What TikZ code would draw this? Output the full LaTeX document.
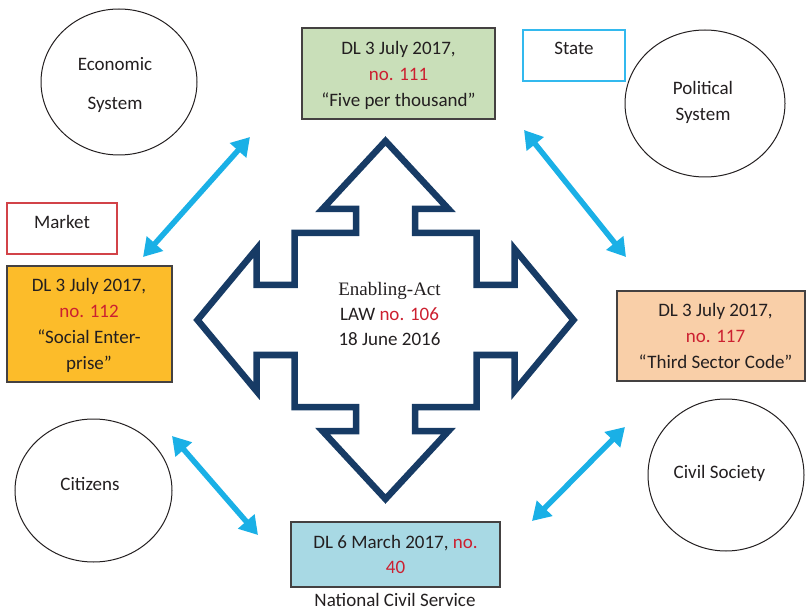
\documentclass[tikz,border=0pt]{standalone}
\usepackage{fontspec}
\setmainfont{Carlito}
\newfontfamily\serifA{Liberation Serif}
\usetikzlibrary{arrows.meta,shapes.geometric}
\definecolor{navy}{HTML}{173B65}
\definecolor{cyanA}{HTML}{1AB0E6}
\definecolor{ink}{HTML}{231F20}
\definecolor{redA}{HTML}{CC2030}
\definecolor{greenA}{HTML}{C9DFB9}
\definecolor{orangeA}{HTML}{FCBC2A}
\definecolor{peachA}{HTML}{F9CFA8}
\definecolor{blueA}{HTML}{A8D9E4}
\definecolor{stateB}{HTML}{33B9EE}
\definecolor{marketB}{HTML}{D24348}
\begin{document}
\begin{tikzpicture}[x=1pt,y=-1pt,
  txt/.style={font=\fontsize{19}{23}\selectfont, text=ink, inner sep=0pt, anchor=base},
  oval/.style={draw=ink, line width=1pt, ellipse, inner sep=0pt},
  dlbox/.style={draw=ink!85, line width=1.3pt, rectangle, inner sep=0pt},
  dbl/.style={draw=cyanA, line width=5.5pt, {Triangle[length=18pt,width=21pt]}-{Triangle[length=18pt,width=21pt]}},
  red/.style={text=redA}]
\path[use as bounding box] (0,0) rectangle (806,612);

% ellipses
\node[oval, minimum width=156pt, minimum height=146pt] (eco) at (119,82) {};
\node[oval, minimum width=160pt, minimum height=147pt] (pol) at (705,103.5) {};
\node[oval, minimum width=157pt, minimum height=143pt] (cit) at (93.5,490.5) {};
\node[oval, minimum width=156pt, minimum height=152pt] (civ) at (726,475) {};
\node[txt] (ecoA) at (115,71) {Economic};
\node[txt] (ecoB) at (115,110) {System};
\node[txt] (polA) at (703,95) {Political};
\node[txt] (polB) at (703,121) {System};
\node[txt] (citT) at (90,490) {Citizens};
\node[txt] (civT) at (719.5,478) {Civil Society};

% label boxes
\node[draw=stateB, line width=1.1pt, minimum width=102pt, minimum height=51pt, inner sep=0pt] (state) at (574,55.5) {};
\node[txt] (stateT) at (574,55) {State};
\node[draw=marketB, line width=1.1pt, minimum width=110pt, minimum height=51pt, inner sep=0pt] (market) at (62,228.5) {};
\node[txt] (marketT) at (62,228.3) {Market};

% decree boxes
\node[dlbox, fill=greenA, minimum width=193pt, minimum height=91pt] (g) at (398.5,73.5) {};
\node[txt] (g1) at (398.5,55) {DL 3 July 2017,};
\node[txt, red] (g2) at (398.5,80.5) {no. 111};
\node[txt] (g3) at (398.5,106.5) {“Five per thousand”};

\node[dlbox, fill=orangeA, minimum width=165pt, minimum height=116pt] (o) at (89.5,324) {};
\node[txt] (o1) at (89,291.5) {DL 3 July 2017,};
\node[txt, red] (o2) at (89,318) {no. 112};
\node[txt] (o3) at (89,344) {“Social Enter-};
\node[txt] (o4) at (89,370) {prise”};

\node[dlbox, fill=peachA, minimum width=188pt, minimum height=90pt] (p) at (711,336) {};
\node[txt] (p1) at (715.5,317) {DL 3 July 2017,};
\node[txt, red] (p2) at (715.5,343) {no. 117};
\node[txt] (p3) at (715.5,368.5) {“Third Sector Code”};

\node[dlbox, fill=blueA, minimum width=209pt, minimum height=65pt] (b) at (395.5,554.5) {};
\node[txt] (b1) at (395.5,548.3) {DL 6 March 2017, \textcolor{redA}{no.}};
\node[txt, red] (b2) at (395.5,573.3) {40};
\node[txt, text depth=0pt] (ncs) at (395,606.5) {National Civil Service};

% central four-way arrow
\draw[navy, line width=6.5pt, line join=miter, miter limit=10, shift={(385.5,320)}]
  (0,-179) -- (63,-111) -- (29.5,-111) -- (29.5,-87) -- (91,-87) -- (91,-35) -- (129,-35) -- (129,-71)
  -- (188,0) -- (129,71) -- (129,35) -- (91,35) -- (91,87) -- (29.5,87) -- (29.5,111) -- (63,111)
  -- (0,179) -- (-63,111) -- (-29.5,111) -- (-29.5,87) -- (-91,87) -- (-91,35) -- (-129,35) -- (-129,71)
  -- (-188,0) -- (-129,-71) -- (-129,-35) -- (-91,-35) -- (-91,-87) -- (-29.5,-87) -- (-29.5,-111) -- (-63,-111)
  -- cycle;
\node[txt, font=\serifA\fontsize{19}{23}\selectfont] (law1) at (389.5,296) {Enabling-Act};
\node[txt] (law2) at (389.5,320) {LAW \textcolor{redA}{no. 106}};
\node[txt] (law3) at (389.5,345) {18 June 2016};

% cyan double arrows
\coordinate (a1s) at (143,257); \coordinate (a1e) at (250,137);
\coordinate (a2s) at (524,130); \coordinate (a2e) at (626,257);
\coordinate (a3s) at (172,436); \coordinate (a3e) at (258,535);
\coordinate (a4s) at (625,427); \coordinate (a4e) at (532,521);
\draw[dbl] (a1s) -- (a1e);
\draw[dbl] (a2s) -- (a2e);
\draw[dbl] (a3s) -- (a3e);
\draw[dbl] (a4s) -- (a4e);
\end{tikzpicture}
\end{document}
